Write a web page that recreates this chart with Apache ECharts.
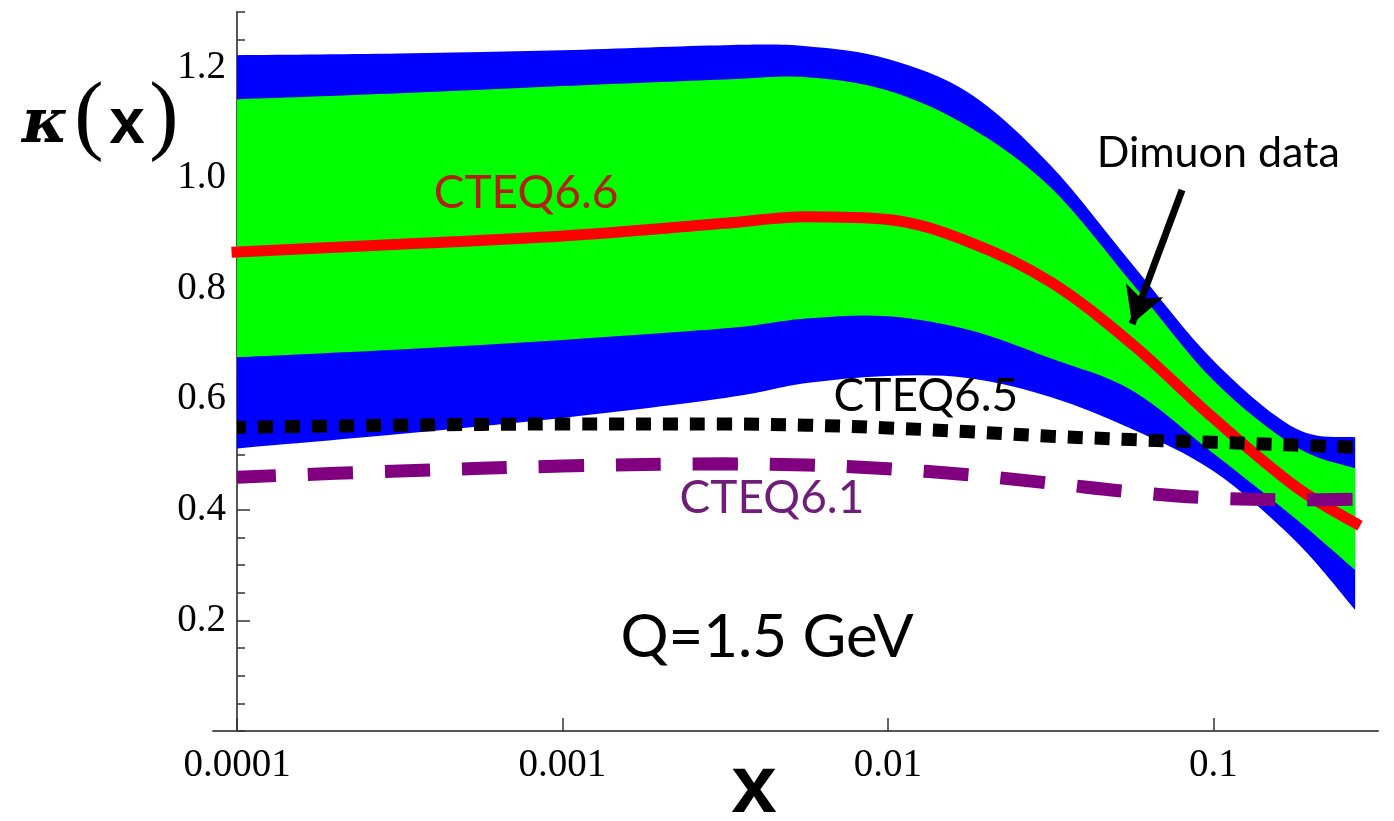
<!DOCTYPE html>
<html>
<head>
<meta charset="utf-8">
<title>kappa(x) at Q=1.5 GeV</title>
<script src="https://cdn.jsdelivr.net/npm/echarts@6/dist/echarts.min.js"></script>
<style>
  html, body { margin: 0; padding: 0; background: #ffffff; }
  #chart { width: 1394px; height: 821px; }
</style>
</head>
<body>
<div id="chart"></div>
<script>
// Sample points in x (log-spaced), shared by every curve
const xValues = [0.0001, 0.000316, 0.001, 0.00316, 0.00562, 0.01, 0.0178, 0.0316, 0.0562, 0.1, 0.178, 0.273];

// CTEQ6.6 uncertainty bands
const outerUpper = [1.222, 1.225, 1.231, 1.240, 1.238, 1.215, 1.153, 1.023, 0.845, 0.670, 0.548, 0.531];
const outerLower = [0.511, 0.537, 0.566, 0.602, 0.629, 0.642, 0.638, 0.604, 0.546, 0.470, 0.345, 0.219];
const innerUpper = [1.142, 1.153, 1.166, 1.178, 1.182, 1.158, 1.092, 0.983, 0.810, 0.634, 0.515, 0.475];
const innerLower = [0.676, 0.690, 0.707, 0.728, 0.746, 0.750, 0.725, 0.674, 0.616, 0.502, 0.385, 0.291];

// Central curves
const cteq66 = [0.866, 0.880, 0.895, 0.918, 0.930, 0.925, 0.884, 0.812, 0.700, 0.566, 0.443, 0.376];
const cteq65 = [0.549, 0.553, 0.555, 0.555, 0.553, 0.548, 0.541, 0.533, 0.527, 0.522, 0.517, 0.513];
const cteq61 = [0.459, 0.470, 0.479, 0.483, 0.481, 0.474, 0.463, 0.448, 0.432, 0.421, 0.418, 0.419];

// Axis ticks
const xTickValues = [0.0001, 0.001, 0.01, 0.1];
const xTickLabels = ['0.0001', '0.001', '0.01', '0.1'];
const yTickValues = [0.2, 0.4, 0.6, 0.8, 1.0, 1.2];

const pairs = (ys) => xValues.map((x, i) => [x, ys[i]]);

const gillLike = 'Lato, "Open Sans", sans-serif';
const serif = '"Liberation Serif", "DejaVu Serif", serif';
const sansBold = '"Liberation Sans", Arial, sans-serif';

// Catmull-Rom curve through screen points, as SVG path commands
function curveThrough(pts, moveFirst) {
  const n = pts.length;
  let d = (moveFirst ? 'M ' : 'L ') + pts[0][0] + ' ' + pts[0][1];
  for (let i = 0; i < n - 1; i++) {
    const p0 = pts[Math.max(i - 1, 0)], p1 = pts[i], p2 = pts[i + 1], p3 = pts[Math.min(i + 2, n - 1)];
    const c1x = p1[0] + (p2[0] - p0[0]) / 6, c1y = p1[1] + (p2[1] - p0[1]) / 6;
    const c2x = p2[0] - (p3[0] - p1[0]) / 6, c2y = p2[1] - (p3[1] - p1[1]) / 6;
    d += ' C ' + c1x + ' ' + c1y + ' ' + c2x + ' ' + c2y + ' ' + p2[0] + ' ' + p2[1];
  }
  return d;
}

// Filled band between two curves, placed through the chart's own axes
function bandRenderer(upper, lower, color) {
  return function (params, api) {
    if (params.dataIndex !== 0) return null;
    const top = xValues.map((x, i) => api.coord([x, upper[i]]));
    const bottom = xValues.map((x, i) => api.coord([x, lower[i]])).reverse();
    const d = curveThrough(top, true) + ' ' + curveThrough(bottom, false) + ' Z';
    return { type: 'path', shape: { pathData: d }, style: { fill: color, stroke: null } };
  };
}

function textMark(coord, text, color, size) {
  return {
    coord: coord,
    symbol: 'circle',
    symbolSize: 1,
    itemStyle: { color: 'rgba(0,0,0,0)' },
    label: {
      show: true, position: 'inside', formatter: text,
      color: color, fontFamily: gillLike, fontSize: size
    }
  };
}

const chart = echarts.init(document.getElementById('chart'), null, { renderer: 'canvas' });

chart.setOption({
  animation: false,
  backgroundColor: '#ffffff',
  grid: { left: 213, right: 16, top: 12, bottom: 90, containLabel: false, outerBoundsMode: 'none' },
  xAxis: {
    type: 'log',
    logBase: 10,
    min: 8.437e-5,
    max: 0.3208,
    axisLine: { show: true, lineStyle: { color: '#555555', width: 2 } },
    axisTick: { show: true, inside: true, length: 13, customValues: xTickValues, lineStyle: { color: '#333333', width: 1.5 } },
    axisLabel: {
      show: true, customValues: xTickValues, margin: 15,
      formatter: (v) => { const i = xTickValues.findIndex(t => Math.abs(t - v) / t < 1e-6); return i >= 0 ? xTickLabels[i] : ''; },
      color: '#000000', fontFamily: serif, fontSize: 39
    },
    splitLine: { show: false },
    minorTick: { show: false }
  },
  yAxis: [
    {
      type: 'value', min: 0, max: 1.3, interval: 0.05, position: 'left', offset: -24,
      axisLine: { show: true, lineStyle: { color: '#555555', width: 2 } },
      axisTick: { show: true, inside: true, length: 8, lineStyle: { color: '#333333', width: 1.5 } },
      axisLabel: { show: false },
      splitLine: { show: false }
    },
    {
      type: 'value', min: 0, max: 1.3, interval: 0.2, position: 'left', offset: -24,
      axisLine: { show: false },
      axisTick: { show: true, inside: true, length: 13, customValues: yTickValues, lineStyle: { color: '#333333', width: 1.5 } },
      axisLabel: {
        show: true, customValues: yTickValues, margin: 11,
        formatter: (v) => v.toFixed(1),
        color: '#000000', fontFamily: serif, fontSize: 39
      },
      splitLine: { show: false }
    }
  ],
  series: [
    {
      name: 'outer band', type: 'custom', coordinateSystem: 'cartesian2d', silent: true, z: 1,
      data: [[xValues[0], outerLower[0]]],
      renderItem: bandRenderer(outerUpper, outerLower, '#0000ff')
    },
    {
      name: 'inner band', type: 'custom', coordinateSystem: 'cartesian2d', silent: true, z: 2,
      data: [[xValues[0], innerLower[0]]],
      renderItem: bandRenderer(innerUpper, innerLower, '#00ff00')
    },
    {
      name: 'CTEQ6.6', type: 'line', data: pairs(cteq66), smooth: 0.35, symbol: 'none', z: 3,
      lineStyle: { color: '#ff0000', width: 11, cap: 'square' },
      markPoint: {
        silent: true,
        data: [
          textMark([0.000773, 0.972], 'CTEQ6.6', '#b51f12', 46),
          textMark([0.1036, 1.045], 'Dimuon data', '#000000', 43),
          textMark([0.004255, 0.168], 'Q=1.5 GeV', '#000000', 60)
        ]
      },
      markLine: {
        silent: true,
        symbol: ['none', 'arrow'],
        symbolSize: [30, 36],
        label: { show: false },
        lineStyle: { color: '#000000', width: 7, type: 'solid' },
        data: [[{ coord: [0.0802, 0.978] }, { coord: [0.0563, 0.736] }]]
      }
    },
    {
      name: 'CTEQ6.5', type: 'line', data: pairs(cteq65), smooth: 0.35, symbol: 'none', z: 4,
      lineStyle: { color: '#000000', width: 13, type: [15, 12], dashOffset: 6, cap: 'butt' },
      markPoint: { silent: true, data: [textMark([0.01309, 0.605], 'CTEQ6.5', '#000000', 46)] }
    },
    {
      name: 'CTEQ6.1', type: 'line', data: pairs(cteq61), smooth: 0.35, symbol: 'none', z: 5,
      lineStyle: { color: '#800080', width: 13, type: [45, 32], dashOffset: 6, cap: 'butt' },
      markPoint: { silent: true, data: [textMark([0.004406, 0.421], 'CTEQ6.1', '#6e1e78', 46)] }
    }
  ],
  graphic: [
    { type: 'text', z: 10, style: { x: 45, y: 126, text: 'κ', textAlign: 'center', textVerticalAlign: 'middle', fontFamily: '"DejaVu Serif", serif', fontWeight: 'bold', fontStyle: 'italic', fontSize: 62, fill: '#000000' } },
    { type: 'text', z: 10, style: { x: 89, y: 120, text: '(', textAlign: 'center', textVerticalAlign: 'middle', fontFamily: serif, fontSize: 88, fill: '#000000' } },
    { type: 'text', z: 10, style: { x: 127, y: 125, text: 'x', textAlign: 'center', textVerticalAlign: 'middle', fontFamily: sansBold, fontWeight: 'bold', fontSize: 64, fill: '#000000' } },
    { type: 'text', z: 10, style: { x: 164, y: 120, text: ')', textAlign: 'center', textVerticalAlign: 'middle', fontFamily: serif, fontSize: 88, fill: '#000000' } },
    { type: 'text', z: 10, style: { x: 754, y: 789, text: 'x', textAlign: 'center', textVerticalAlign: 'middle', fontFamily: sansBold, fontWeight: 'bold', fontSize: 82, fill: '#000000' } }
  ]
});
</script>
</body>
</html>
